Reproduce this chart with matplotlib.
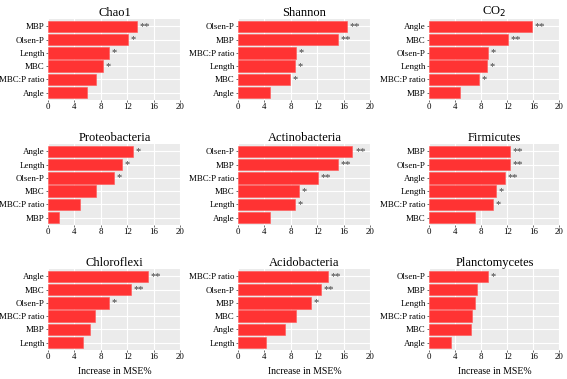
import matplotlib
matplotlib.use("Agg")
import matplotlib.pyplot as plt

plt.rcParams['font.family'] = ['Liberation Serif', 'DejaVu Serif']

titles = ["Chao1", "Shannon", "CO$_2$",
          "Proteobacteria", "Actinobacteria", "Firmicutes",
          "Chloroflexi", "Acidobacteria", "Planctomycetes"]

# variables listed top to bottom, with values and significance
chao1_vars = ["MBP", "Olsen-P", "Length", "MBC", "MBC:P ratio", "Angle"]
chao1_vals = [13.5, 12.1, 9.15, 8.3, 7.3, 5.9]
chao1_sig = ["**", "*", "*", "*", "", ""]

shannon_vars = ["Olsen-P", "MBP", "MBC:P ratio", "Length", "MBC", "Angle"]
shannon_vals = [16.4, 15.1, 8.7, 8.6, 7.9, 4.85]
shannon_sig = ["**", "**", "*", "*", "*", ""]

co2_vars = ["Angle", "MBC", "Olsen-P", "Length", "MBC:P ratio", "MBP"]
co2_vals = [15.8, 12.05, 9.1, 8.9, 7.6, 4.8]
co2_sig = ["**", "**", "*", "*", "*", ""]

proteo_vars = ["Angle", "Length", "Olsen-P", "MBC", "MBC:P ratio", "MBP"]
proteo_vals = [12.85, 11.2, 9.9, 7.3, 4.8, 1.66]
proteo_sig = ["*", "*", "*", "", "", ""]

actino_vars = ["Olsen-P", "MBP", "MBC:P ratio", "MBC", "Length", "Angle"]
actino_vals = [17.3, 15.1, 12.1, 9.2, 8.6, 4.84]
actino_sig = ["**", "**", "**", "*", "*", ""]

firmi_vars = ["MBP", "Olsen-P", "Angle", "Length", "MBC:P ratio", "MBC"]
firmi_vals = [12.45, 12.4, 11.6, 10.25, 9.8, 7.0]
firmi_sig = ["**", "**", "**", "*", "*", ""]

chloro_vars = ["Angle", "MBC", "Olsen-P", "MBC:P ratio", "MBP", "Length"]
chloro_vals = [15.06, 12.55, 9.2, 7.15, 6.4, 5.3]
chloro_sig = ["**", "**", "*", "", "", ""]

acido_vars = ["MBC:P ratio", "Olsen-P", "MBP", "MBC", "Angle", "Length"]
acido_vals = [13.55, 12.5, 11.0, 8.7, 7.1, 4.2]
acido_sig = ["**", "**", "*", "", "", ""]

plancto_vars = ["Olsen-P", "MBP", "Length", "MBC:P ratio", "MBC", "Angle"]
plancto_vals = [9.1, 7.3, 7.0, 6.6, 6.4, 3.4]
plancto_sig = ["*", "", "", "", "", ""]

panels = [
    (chao1_vars, chao1_vals, chao1_sig),
    (shannon_vars, shannon_vals, shannon_sig),
    (co2_vars, co2_vals, co2_sig),
    (proteo_vars, proteo_vals, proteo_sig),
    (actino_vars, actino_vals, actino_sig),
    (firmi_vars, firmi_vals, firmi_sig),
    (chloro_vars, chloro_vals, chloro_sig),
    (acido_vars, acido_vals, acido_sig),
    (plancto_vars, plancto_vals, plancto_sig),
]

xticks = [0, 4, 8, 12, 16, 20]

W, H = 567, 379
fig = plt.figure(figsize=(W / 100, H / 100), dpi=100)

col_left = [48, 238, 429]
col_width = [133, 133, 131]
row_top = [19, 144, 269]
row_h = 81

bar_color = "#FF3333"
bg = "#EBEBEB"

for i, (vars_, vals, sig) in enumerate(panels):
    r, c = divmod(i, 3)
    left = col_left[c] / W
    bottom = 1 - (row_top[r] + row_h) / H
    ax = fig.add_axes([left, bottom, col_width[c] / W, row_h / H])
    ax.set_facecolor(bg)
    n = len(vars_)
    ypos = list(range(n - 1, -1, -1))
    ax.barh(ypos, vals, height=0.85, color=bar_color, edgecolor="#FF5555",
            linewidth=0.4, zorder=3)
    for y, v, s in zip(ypos, vals, sig):
        if s:
            ax.text(v + 0.4, y, s, ha="left", va="center",
                    fontsize=7.5, color="#3A3A3A", zorder=4)
    ax.set_xlim(0, 20.1)
    ax.set_ylim(-0.55, n - 0.45)
    ax.set_xticks(xticks)
    ax.set_xticklabels([str(t) for t in xticks])
    ax.set_yticks(ypos)
    ax.set_yticklabels(vars_)
    ax.grid(True, color="white", linewidth=0.8, zorder=0)
    ax.set_axisbelow(True)
    for sp in ax.spines.values():
        sp.set_visible(False)
    ax.tick_params(axis="both", labelsize=6.4, length=1.5, width=0.5,
                   color="#333333", pad=0.8, labelcolor="black")
    ax.set_title(titles[i], fontsize=9, pad=2.5)
    if r == 2:
        ax.set_xlabel("Increase in MSE%", fontsize=7, labelpad=4)

fig.savefig("out.png", dpi=100)
